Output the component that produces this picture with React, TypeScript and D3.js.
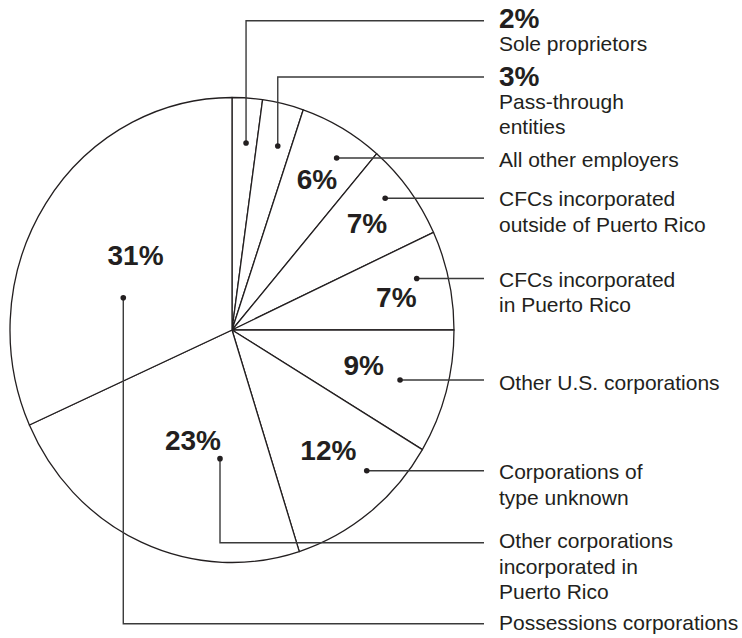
import React from "react";
import * as d3 from "d3";

// ---- data ----
const categories = [
  "Sole proprietors",
  "Pass-through entities",
  "All other employers",
  "CFCs incorporated outside of Puerto Rico",
  "CFCs incorporated in Puerto Rico",
  "Other U.S. corporations",
  "Corporations of type unknown",
  "Other corporations incorporated in Puerto Rico",
  "Possessions corporations",
];
const labelLines = [
  ["Sole proprietors"],
  ["Pass-through", "entities"],
  ["All other employers"],
  ["CFCs incorporated", "outside of Puerto Rico"],
  ["CFCs incorporated", "in Puerto Rico"],
  ["Other U.S. corporations"],
  ["Corporations of", "type unknown"],
  ["Other corporations", "incorporated in", "Puerto Rico"],
  ["Possessions corporations"],
];
const shares = [2.2, 3.0, 6.1, 6.8, 6.9, 8.6, 11.5, 23.2, 31.7];
const shownPct = ["2%", "3%", "6%", "7%", "7%", "9%", "12%", "23%", "31%"];

// ---- layout ----
const W = 742;
const H = 638;
const CX = 232;
const CY = 330;
const RY = 232.5;
const RX = 222;
const SX = RX / RY;
const LINE_END = 484;
const TEXT_X = 499;
// dot position inside each slice: fraction of slice angle, fraction of radius
const dotT = [0.568, 0.618, 0.628, 0.405, 0.4, 0.513, 0.337, 0.278, 0.35];
const dotR = [0.807, 0.818, 0.877, 0.893, 0.861, 0.787, 0.857, 0.556, 0.509];
// in-slice percentage label (null = shown beside the name instead)
const pctT: (number | null)[] = [null, null, 0.536, 0.495, 0.557, 0.459, 0.458, 0.455, 0.532];
const pctR: (number | null)[] = [null, null, 0.754, 0.763, 0.754, 0.612, 0.674, 0.505, 0.541];
// elbow leader heights (null = straight horizontal leader from the dot)
const leaderY: (number | null)[] = [20.7, 77, null, null, null, null, null, 542.7, 623.7];
const textOffset = [7.5, 9, 9, 8, 8, 10, 8.6, 5.6, 6.3];
const LINE_H = 25.4;
const BOLD_GAP = 22.5;

const INK = "#231f20";
const LEADER = "#3a3a3a";
const FONT = "'Liberation Sans', Arial, Helvetica, sans-serif";

export default function App() {
  const pie = d3.pie<number>().sort(null).value((d) => d);
  const arcs = pie(shares);
  const arc = d3.arc<d3.PieArcDatum<number>>().innerRadius(0).outerRadius(RY);

  const polar = (a: number, r: number): [number, number] => {
    const [x, y] = d3.pointRadial(a, r);
    return [CX + x * SX, CY + y];
  };

  return (
    <svg
      width={W}
      height={H}
      viewBox={`0 0 ${W} ${H}`}
      style={{ position: "absolute", left: 0, top: 0, background: "#fff" }}
      fontFamily={FONT}
    >
      <rect x={0} y={0} width={W} height={H} fill="#fff" />
      <g transform={`translate(${CX},${CY}) scale(${SX},1)`}>
        {arcs.map((a, i) => (
          <path
            key={categories[i]}
            d={arc(a) || ""}
            fill="#fff"
            stroke={INK}
            strokeWidth={1.3}
            vectorEffect="non-scaling-stroke"
            strokeLinejoin="round"
          />
        ))}
      </g>
      {arcs.map((a, i) => {
        const span = a.endAngle - a.startAngle;
        const [dx, dy] = polar(a.startAngle + span * dotT[i], RY * dotR[i]);
        const ly = leaderY[i];
        const path =
          ly != null
            ? `M${dx},${dy}L${dx},${ly}L${LINE_END},${ly}`
            : `M${dx},${dy}L${LINE_END},${dy}`;
        const anchorY = (ly != null ? ly : dy) + textOffset[i];
        const outsidePct = pctT[i] == null;
        const firstLineY = outsidePct ? anchorY + BOLD_GAP : anchorY;
        let pctLabel = null;
        if (!outsidePct) {
          const [px, py] = polar(a.startAngle + span * (pctT[i] as number), RY * (pctR[i] as number));
          pctLabel = (
            <text x={px} y={py + 10} textAnchor="middle" fontSize={28} fontWeight="bold" fill={INK}>
              {shownPct[i]}
            </text>
          );
        }
        return (
          <g key={"c" + i}>
            <path d={path} fill="none" stroke={LEADER} strokeWidth={1.4} />
            <circle cx={dx} cy={dy} r={2.8} fill={INK} />
            {pctLabel}
            {outsidePct && (
              <text x={TEXT_X} y={anchorY} fontSize={28} fontWeight="bold" fill={INK}>
                {shownPct[i]}
              </text>
            )}
            <text x={TEXT_X} y={firstLineY} fontSize={21} fill={INK}>
              {labelLines[i].map((ln, k) => (
                <tspan key={k} x={TEXT_X} y={firstLineY + k * LINE_H}>
                  {ln}
                </tspan>
              ))}
            </text>
          </g>
        );
      })}
    </svg>
  );
}
